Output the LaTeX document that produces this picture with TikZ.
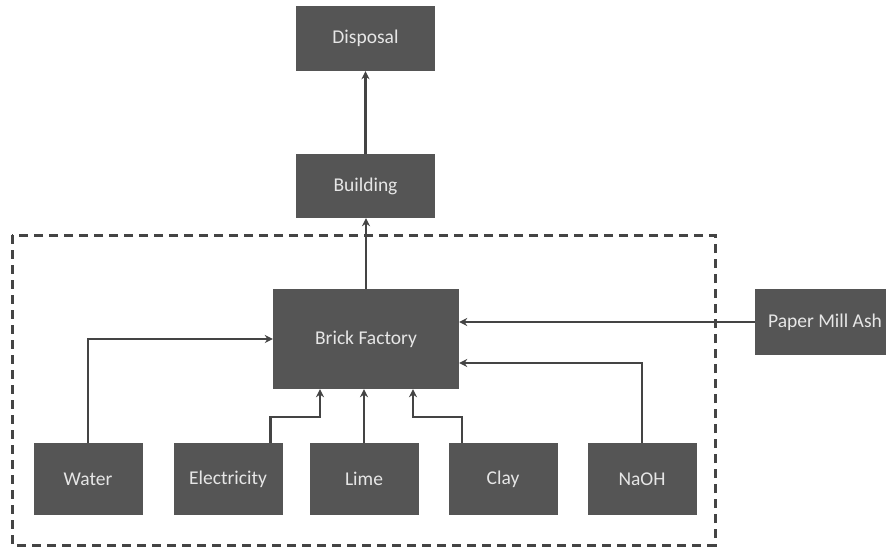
\documentclass[tikz,border=0pt]{standalone}
\usepackage{fontspec}
\setmainfont{Carlito}
\usetikzlibrary{arrows.meta}
\definecolor{boxgray}{HTML}{555555}
\definecolor{linegray}{HTML}{444444}
\definecolor{txtgray}{HTML}{E6E6E6}
\begin{document}
\begin{tikzpicture}[x=1pt,y=-1pt,
		box/.style={fill=boxgray, text=txtgray, inner sep=0pt,
			font=\fontsize{19.5}{22}\selectfont},
		flow/.style={draw=linegray, line width=2.6pt,
			-{Stealth[length=8pt,width=8pt]}},
		system/.style={draw=linegray, line width=3pt, dash pattern=on 9pt off 6pt}]
		\useasboundingbox (0,0) rectangle (886,550);
		% Systemgrenze
		\draw[system] (12,235) rectangle (715,545);
		% Oben
		\node[box, minimum width=139pt, minimum height=65pt] (disposal) at (365.5,38.5) {Disposal};
		\node[box, minimum width=139pt, minimum height=64pt] (building) at (365.5,186) {Building};
		% Mitte
		\node[box, minimum width=186pt, minimum height=100pt] (factory) at (366,339) {Brick Factory};
		\node[box, minimum width=140pt, minimum height=66pt] (ash) at (825,322) {Paper Mill Ash};
		% Unten
		\begin{scope}[every node/.style={box, minimum width=109pt, minimum height=72pt}]
			\node (water) at (88,479) {Water};
			\node (elec) at (228,479) {Electricity};
			\node (lime) at (364,479) {Lime};
			\node (clay) at (503,479) {Clay};
			\node (naoh) at (642,479) {NaOH};
		\end{scope}
		% Pfeile
		\draw[flow] (building.north) -- (disposal.south);
		\draw[flow] (factory.north) -- (factory.north |- building.south);
		\draw[flow] (ash.west) -- (ash.west -| factory.east);
		\draw[flow] (water.north) |- (factory.west);
		\draw[flow] ([xshift=-12pt]elec.north east) -- ++(0,-26) -| ([xshift=-46pt]factory.south);
		\draw[flow] (lime.north) -- (lime.north |- factory.south);
		\draw[flow] ([xshift=-41pt]clay.north) -- ++(0,-26) -| ([xshift=47pt]factory.south);
		\draw[flow] (naoh.north) |- ([yshift=-24pt]factory.east);
	\end{tikzpicture}
\end{document}
